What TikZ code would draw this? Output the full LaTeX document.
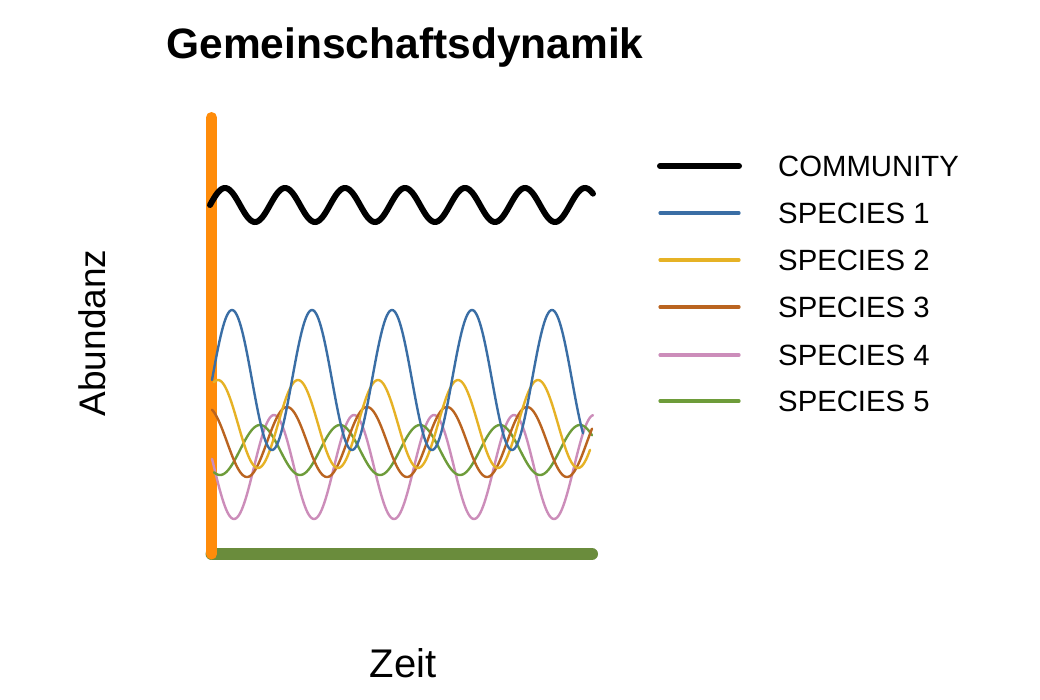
\documentclass[tikz,border=0pt]{standalone}
\usepackage{fontspec}
\setmainfont{Liberation Sans}
\usepackage{tikz}

\definecolor{axisorange}{HTML}{FF8C0A}
\definecolor{axisgreen}{HTML}{6A8C3C}
\definecolor{spblue}{HTML}{3A6EA5}
\definecolor{spyellow}{HTML}{E6B225}
\definecolor{spbrown}{HTML}{BA6420}
\definecolor{sppink}{HTML}{CC8DBA}
\definecolor{spgreen}{HTML}{6E9C3A}

\tikzset{
  community/.style={black,line width=6pt,line cap=round},
  species/.style={line width=2.4pt,line cap=round},
  keyline/.style={line width=3.2pt,line cap=round},
  keytext/.style={anchor=west,inner sep=0pt,font=\fontsize{29.3}{34}\selectfont},
}

\begin{document}
\begin{tikzpicture}[x=1pt,y=-1pt]
      \useasboundingbox[fill=white] (0,0) rectangle (1040,699);
      \node [anchor=base,inner sep=0pt,font=\fontsize{42.5}{48}\selectfont\bfseries] (title) at (405,58) {Gemeinschaftsdynamik};
      \node [rotate=90,inner sep=0pt,font=\fontsize{37}{44}\selectfont] (ylab) at (92,333) {Abundanz};
      \node [anchor=base,inner sep=0pt,font=\fontsize{40}{48}\selectfont] (xlab) at (403,677) {Zeit};
      % axes
      \coordinate (O) at (211.5,554);
      \coordinate (T) at (211.5,117.5);
      \coordinate (R) at (592,554);
      \draw[axisgreen,line width=12pt,line cap=round] (O) -- (R);
      \draw[axisorange,line width=11pt,line cap=round] (T) -- (O);
      % curves
      \draw[community] plot[domain=210:593,samples=300] (\x,{205-17*sin(6*(\x-210))});
      \draw[species,sppink] plot[domain=212:593,samples=300] (\x,{467-52*cos(4.5*(\x-274))});
      \draw[species,spgreen] plot[domain=214:592,samples=300] (\x,{450-25*cos(4.5*(\x-260))});
      \draw[species,spbrown] plot[domain=212:592,samples=300] (\x,{442-35*cos(4.5*(\x-207))});
      \draw[species,spyellow] plot[domain=214:590,samples=300] (\x,{424-44*cos(4.5*(\x-218))});
      \draw[species,spblue] plot[domain=212:583,samples=300] (\x,{380-70*sin(4.5*(\x-212))});
      % legend
      \coordinate (k0a) at (660,166);  \coordinate (k0b) at (739,166);
      \coordinate (k1a) at (660,213);  \coordinate (k1b) at (739,213);
      \coordinate (k2a) at (660,260);  \coordinate (k2b) at (739,260);
      \coordinate (k3a) at (660,307);  \coordinate (k3b) at (739,307);
      \coordinate (k4a) at (660,355);  \coordinate (k4b) at (739,355);
      \coordinate (k5a) at (660,401);  \coordinate (k5b) at (739,401);
      \draw[community] (k0a) -- (k0b);
      \draw[keyline,spblue] (k1a) -- (k1b);
      \draw[keyline,spyellow] (k2a) -- (k2b);
      \draw[keyline,spbrown] (k3a) -- (k3b);
      \draw[keyline,sppink] (k4a) -- (k4b);
      \draw[keyline,spgreen] (k5a) -- (k5b);
      \node [keytext] (t0) at (778,166) {COMMUNITY};
      \node [keytext] (t1) at (778,213) {SPECIES 1};
      \node [keytext] (t2) at (778,260) {SPECIES 2};
      \node [keytext] (t3) at (778,307) {SPECIES 3};
      \node [keytext] (t4) at (778,355) {SPECIES 4};
      \node [keytext] (t5) at (778,401) {SPECIES 5};
    \end{tikzpicture}
\end{document}
